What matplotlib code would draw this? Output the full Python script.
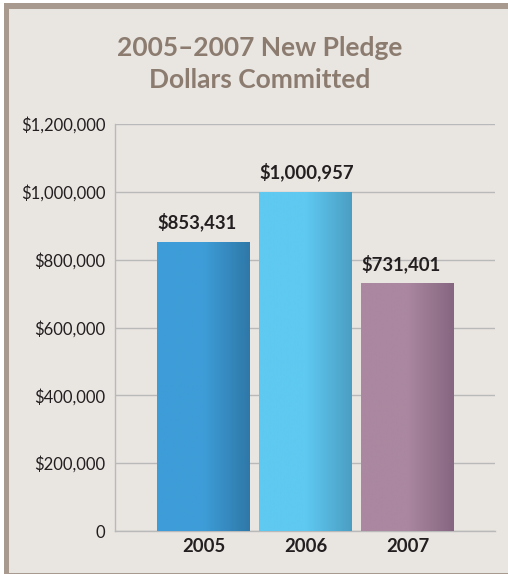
import matplotlib.pyplot as plt
import numpy as np
from matplotlib.patches import Rectangle
from matplotlib.colors import LinearSegmentedColormap

years = ['2005', '2006', '2007']
pledges = [853431, 1000957, 731401]
labels = ['$853,431', '$1,000,957', '$731,401']
yticks = [0, 200000, 400000, 600000, 800000, 1000000, 1200000]
ytick_labels = ['0', '$200,000', '$400,000', '$600,000', '$800,000', '$1,000,000', '$1,200,000']
# left/right shade of each bar
shades = [('#3e9dd8', '#2e78a8'), ('#5fc9f1', '#4b9ec3'), ('#ab87a1', '#856680')]

bg = '#e9e5e1'
taupe = '#a89a8e'
dark = '#231f20'

fig = plt.figure(figsize=(5.08, 5.74), dpi=100)
fig.patch.set_facecolor('white')

# panel with taupe top/left border
fig.patches.append(Rectangle((4/508, 0), 1, 1 - 3/574, transform=fig.transFigure,
                             facecolor=taupe, edgecolor='none', zorder=-10))
fig.patches.append(Rectangle((9/508, 1/574), 1, 1 - 9/574 - 1/574, transform=fig.transFigure,
                             facecolor=bg, edgecolor='none', zorder=-9))

ax = fig.add_axes([115/508, 43/574, 380/508, 407/574])
ax.set_facecolor('none')

x = np.arange(len(years))
bars = ax.bar(x, pledges, width=0.91, color='none', edgecolor='none', zorder=3)

grad = np.linspace(0, 1, 256).reshape(1, -1)
for b, (c1, c2) in zip(bars, shades):
    cmap = LinearSegmentedColormap.from_list('g', [c1, c1, c2])
    x0, y0 = b.get_x(), b.get_y()
    im = ax.imshow(grad, cmap=cmap, aspect='auto', zorder=3,
                   extent=[x0, x0 + b.get_width(), y0, y0 + b.get_height()])
    im.set_clip_path(b)

for xi, v, lab in zip(x, pledges, labels):
    ax.text(xi - 0.455, v + 29000, lab, ha='left', va='bottom', fontsize=13.3,
            fontweight='bold', color=dark, family='Lato')

ax.set_xlim(-0.868, 2.858)
ax.set_ylim(0, 1200000)
ax.set_yticks(yticks)
ax.set_yticklabels(ytick_labels, fontsize=12, color=dark, family='Lato')
ax.set_xticks(x)
ax.set_xticklabels(years, fontsize=13.3, fontweight='bold', color=dark, family='Lato')
ax.tick_params(axis='both', length=0)
ax.tick_params(axis='y', pad=7)
ax.tick_params(axis='x', pad=5)
ax.yaxis.grid(True, color='#b9b9b9', linewidth=1)
ax.set_axisbelow(True)
for s in ['top', 'right']:
    ax.spines[s].set_visible(False)
for s in ['left', 'bottom']:
    ax.spines[s].set_color('#b9b9b9')
    ax.spines[s].set_linewidth(1)

fig.text(260/508, 1 - 64/574, '2005\u20132007 New Pledge\nDollars Committed', ha='center',
         va='center', fontsize=19, fontweight='bold', color='#8c7c70', family='Lato',
         linespacing=1.35)

fig.savefig('out.png', dpi=100, facecolor=fig.get_facecolor())
